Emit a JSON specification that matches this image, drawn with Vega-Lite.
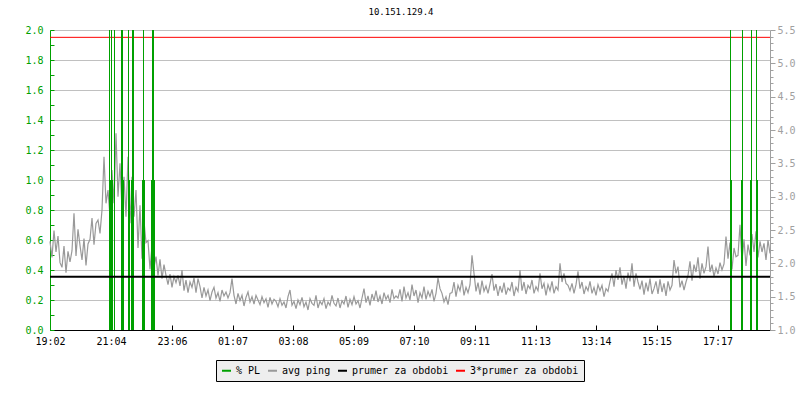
{
  "$schema": "https://vega.github.io/schema/vega-lite/v6.json",
  "width": 720,
  "height": 300,
  "autosize": {"type": "none"},
  "padding": {"left": 50, "top": 30, "right": 30, "bottom": 70},
  "background": "white",
  "title": {"text": "10.151.129.4", "font": "DejaVu Sans Mono", "fontSize": 9, "fontWeight": "normal", "color": "black", "anchor": "middle", "frame": "group", "dx": -9, "offset": 8},
  "config": {"view": {"stroke": null}},
  "datasets": {
    "ping": [
      {"t":0,"v":2.33},{"t":4,"v":2.09},{"t":8,"v":2.49},{"t":12,"v":2.17},{"t":16,"v":2.41},{"t":20,"v":2.01},{"t":24,"v":1.94},{"t":28,"v":2.26},{"t":32,"v":1.86},{"t":36,"v":2.18},{"t":40,"v":2.02},{"t":44,"v":2.19},{"t":48,"v":2.75},{"t":52,"v":2.11},{"t":56,"v":2.51},{"t":60,"v":2.27},{"t":64,"v":2.05},{"t":68,"v":2.37},{"t":72,"v":1.97},{"t":76,"v":2.29},{"t":80,"v":2.36},{"t":84,"v":2.68},{"t":88,"v":2.28},{"t":92,"v":2.6},{"t":96,"v":2.65},{"t":100,"v":2.45},
      {"t":104,"v":2.8},{"t":108,"v":3.6},{"t":112,"v":2.9},{"t":116,"v":3.1},{"t":120,"v":2.7},{"t":124,"v":3.4},{"t":128,"v":2.9},{"t":132,"v":3.95},{"t":136,"v":3.0},{"t":140,"v":3.5},{"t":144,"v":2.8},{"t":148,"v":3.3},{"t":152,"v":2.7},{"t":156,"v":3.6},{"t":160,"v":2.6},{"t":164,"v":3.3},{"t":168,"v":2.7},{"t":172,"v":3.1},{"t":176,"v":2.23},{"t":180,"v":2.87},{"t":184,"v":2.07},{"t":188,"v":2.63},{"t":192,"v":2.31},{"t":196,"v":2.34},{"t":200,"v":1.91},{"t":204,"v":2.26},{"t":208,"v":1.94},{"t":212,"v":2.1},
      {"t":216,"v":1.82},{"t":220,"v":2.06},{"t":224,"v":1.77},{"t":228,"v":1.98},{"t":232,"v":1.82},{"t":236,"v":1.68},{"t":240,"v":1.84},{"t":244,"v":1.64},{"t":248,"v":1.8},{"t":252,"v":1.71},{"t":256,"v":1.82},{"t":260,"v":1.66},{"t":264,"v":1.9},{"t":268,"v":1.59},{"t":272,"v":1.75},{"t":276,"v":1.56},{"t":280,"v":1.72},{"t":284,"v":1.64},{"t":288,"v":1.78},{"t":292,"v":1.56},{"t":296,"v":1.77},{"t":300,"v":1.65},
      {"t":304,"v":1.48},{"t":308,"v":1.64},{"t":312,"v":1.51},{"t":316,"v":1.6},{"t":320,"v":1.44},{"t":324,"v":1.57},{"t":328,"v":1.64},{"t":332,"v":1.48},{"t":336,"v":1.56},{"t":340,"v":1.43},{"t":344,"v":1.6},{"t":348,"v":1.51},{"t":352,"v":1.57},{"t":356,"v":1.48},{"t":360,"v":1.56},{"t":364,"v":1.77},
      {"t":368,"v":1.52},{"t":372,"v":1.39},{"t":376,"v":1.55},{"t":380,"v":1.44},{"t":384,"v":1.52},{"t":388,"v":1.36},{"t":392,"v":1.49},{"t":396,"v":1.57},{"t":400,"v":1.42},{"t":404,"v":1.5},{"t":408,"v":1.39},{"t":412,"v":1.52},{"t":416,"v":1.45},
      {"t":420,"v":1.38},{"t":424,"v":1.5},{"t":428,"v":1.41},{"t":432,"v":1.47},{"t":436,"v":1.34},{"t":440,"v":1.49},{"t":444,"v":1.39},{"t":448,"v":1.46},
      {"t":452,"v":1.43},{"t":456,"v":1.35},{"t":460,"v":1.47},{"t":464,"v":1.37},{"t":468,"v":1.42},{"t":472,"v":1.33},{"t":476,"v":1.5},{"t":480,"v":1.6},{"t":484,"v":1.37},{"t":488,"v":1.43},{"t":492,"v":1.32},{"t":496,"v":1.45},{"t":500,"v":1.38},{"t":504,"v":1.49},{"t":508,"v":1.35},{"t":512,"v":1.42},{"t":516,"v":1.3},{"t":520,"v":1.47},{"t":524,"v":1.4},{"t":528,"v":1.37},{"t":532,"v":1.52},{"t":536,"v":1.33},{"t":540,"v":1.43},{"t":544,"v":1.38},{"t":548,"v":1.47},{"t":552,"v":1.32},{"t":556,"v":1.42},{"t":560,"v":1.37},{"t":564,"v":1.52},{"t":568,"v":1.4},
      {"t":572,"v":1.36},{"t":576,"v":1.48},{"t":580,"v":1.33},{"t":584,"v":1.44},{"t":588,"v":1.39},{"t":592,"v":1.51},{"t":596,"v":1.34},{"t":600,"v":1.46},{"t":604,"v":1.38},{"t":608,"v":1.5},{"t":612,"v":1.39},{"t":616,"v":1.44},{"t":620,"v":1.33},{"t":624,"v":1.48},{"t":628,"v":1.62},
      {"t":632,"v":1.41},{"t":636,"v":1.51},{"t":640,"v":1.37},{"t":644,"v":1.54},{"t":648,"v":1.44},{"t":652,"v":1.59},{"t":656,"v":1.42},{"t":660,"v":1.51},{"t":664,"v":1.39},{"t":668,"v":1.56},{"t":672,"v":1.46},{"t":676,"v":1.52},{"t":680,"v":1.41},{"t":684,"v":1.61},{"t":688,"v":1.47},{"t":692,"v":1.51},
      {"t":696,"v":1.48},{"t":700,"v":1.61},{"t":704,"v":1.43},{"t":708,"v":1.65},{"t":712,"v":1.48},{"t":716,"v":1.56},{"t":720,"v":1.45},{"t":724,"v":1.68},{"t":728,"v":1.51},{"t":732,"v":1.6},{"t":736,"v":1.41},{"t":740,"v":1.56},{"t":744,"v":1.48},{"t":748,"v":1.65},{"t":752,"v":1.46},{"t":756,"v":1.58},{"t":760,"v":1.5},{"t":764,"v":1.61},{"t":768,"v":1.43},{"t":772,"v":1.55},
      {"t":776,"v":1.78},{"t":780,"v":1.62},{"t":784,"v":1.55},{"t":788,"v":1.42},{"t":792,"v":1.5},{"t":796,"v":1.38},{"t":800,"v":1.55},
      {"t":804,"v":1.56},{"t":808,"v":1.72},{"t":812,"v":1.5},{"t":816,"v":1.67},{"t":820,"v":1.59},{"t":824,"v":1.75},{"t":828,"v":1.52},{"t":832,"v":1.64},{"t":836,"v":1.56},{"t":840,"v":1.68},{"t":844,"v":2.12},{"t":848,"v":1.85},
      {"t":852,"v":1.58},{"t":856,"v":1.71},{"t":860,"v":1.53},{"t":864,"v":1.74},{"t":868,"v":1.58},{"t":872,"v":1.66},{"t":876,"v":1.55},{"t":880,"v":1.69},
      {"t":884,"v":1.84},{"t":888,"v":1.59},{"t":892,"v":1.69},{"t":896,"v":1.51},{"t":900,"v":1.66},{"t":904,"v":1.56},{"t":908,"v":1.71},{"t":912,"v":1.53},{"t":916,"v":1.63},{"t":920,"v":1.59},{"t":924,"v":1.72},{"t":928,"v":1.51},{"t":932,"v":1.64},{"t":936,"v":1.58},{"t":940,"v":1.9},
      {"t":944,"v":1.59},{"t":948,"v":1.72},{"t":952,"v":1.54},{"t":956,"v":1.67},{"t":960,"v":1.62},{"t":964,"v":1.75},{"t":968,"v":1.55},{"t":972,"v":1.65},{"t":976,"v":1.59},{"t":980,"v":1.85},{"t":984,"v":1.62},{"t":988,"v":1.7},{"t":992,"v":1.52},{"t":996,"v":1.68},{"t":1000,"v":1.59},{"t":1004,"v":1.73},{"t":1008,"v":1.55},{"t":1012,"v":1.65},{"t":1016,"v":1.6},
      {"t":1020,"v":2.0},{"t":1024,"v":1.72},{"t":1028,"v":1.85},{"t":1032,"v":1.7},
      {"t":1036,"v":1.67},{"t":1040,"v":1.59},{"t":1044,"v":1.7},{"t":1048,"v":1.55},{"t":1052,"v":1.68},{"t":1056,"v":1.88},{"t":1060,"v":1.62},{"t":1064,"v":1.72},{"t":1068,"v":1.54},{"t":1072,"v":1.65},{"t":1076,"v":1.59},{"t":1080,"v":1.73},{"t":1084,"v":1.55},{"t":1088,"v":1.64},{"t":1092,"v":1.52},{"t":1096,"v":1.68},{"t":1100,"v":1.59},{"t":1104,"v":1.67},{"t":1108,"v":1.5},{"t":1112,"v":1.62},{"t":1116,"v":1.58},
      {"t":1120,"v":1.73},{"t":1124,"v":1.85},{"t":1128,"v":1.65},{"t":1132,"v":1.9},{"t":1136,"v":1.75},{"t":1140,"v":1.94},{"t":1144,"v":1.68},{"t":1148,"v":1.81},{"t":1152,"v":1.62},{"t":1156,"v":1.86},{"t":1160,"v":1.73},{"t":1164,"v":2.0},{"t":1168,"v":1.65},{"t":1172,"v":1.85},{"t":1176,"v":1.72},
      {"t":1180,"v":1.61},{"t":1184,"v":1.74},{"t":1188,"v":1.53},{"t":1192,"v":1.71},{"t":1196,"v":1.58},{"t":1200,"v":1.77},{"t":1204,"v":1.54},
      {"t":1208,"v":1.62},{"t":1212,"v":1.73},{"t":1216,"v":1.54},{"t":1220,"v":1.76},{"t":1224,"v":1.57},{"t":1228,"v":1.7},{"t":1232,"v":1.51},{"t":1236,"v":1.73},{"t":1240,"v":1.6},{"t":1244,"v":1.67},
      {"t":1248,"v":2.05},{"t":1252,"v":1.85},{"t":1256,"v":1.95},{"t":1260,"v":1.64},{"t":1264,"v":1.74},{"t":1268,"v":1.6},{"t":1272,"v":1.72},
      {"t":1276,"v":1.82},{"t":1280,"v":2.03},{"t":1284,"v":1.74},{"t":1288,"v":1.98},{"t":1292,"v":1.87},{"t":1296,"v":2.09},{"t":1300,"v":1.77},{"t":1304,"v":2.0},{"t":1308,"v":1.85},{"t":1312,"v":1.95},{"t":1316,"v":2.25},
      {"t":1320,"v":1.87},{"t":1324,"v":1.98},{"t":1328,"v":1.8},{"t":1332,"v":1.93},{"t":1336,"v":1.84},{"t":1340,"v":2.01},{"t":1344,"v":1.9},
      {"t":1348,"v":1.99},{"t":1352,"v":2.4},{"t":1356,"v":2.07},{"t":1360,"v":2.31},{"t":1364,"v":1.91},{"t":1368,"v":2.23},{"t":1372,"v":2.1},
      {"t":1376,"v":2.12},{"t":1380,"v":2.58},{"t":1384,"v":2.04},{"t":1388,"v":2.36},{"t":1392,"v":1.96},{"t":1396,"v":2.28},{"t":1400,"v":2.12},{"t":1404,"v":2.44},
      {"t":1408,"v":2.17},{"t":1412,"v":2.48},{"t":1416,"v":2.09},{"t":1420,"v":2.33},{"t":1424,"v":2.17},{"t":1428,"v":2.3},{"t":1432,"v":2.05},{"t":1436,"v":2.35},{"t":1440,"v":2.15}
    ],
    "pl": [
      {"t":118,"v":2},{"t":120,"v":1},{"t":122,"v":2},{"t":124,"v":1},{"t":128,"v":2},{"t":142,"v":2},{"t":144,"v":2},{"t":146,"v":1},{"t":156,"v":2},{"t":158,"v":1},{"t":162,"v":1},{"t":164,"v":2},{"t":166,"v":2},{"t":184,"v":1},{"t":186,"v":2},{"t":188,"v":1},{"t":202,"v":1},{"t":204,"v":2},{"t":206,"v":2},{"t":208,"v":1},
      {"t":1360,"v":2},{"t":1362,"v":1},{"t":1382,"v":1},{"t":1384,"v":2},{"t":1400,"v":1},{"t":1402,"v":2},{"t":1412,"v":2},{"t":1414,"v":1}
    ]
  },
  "resolve": {"scale": {"y": "independent"}},
  "layer": [
    {
      "data": {"name": "ping"},
      "mark": {"type": "line", "strokeWidth": 1.2, "interpolate": "linear"},
      "encoding": {
        "x": {"field": "t", "type": "quantitative", "scale": {"domain": [0, 1440], "nice": false, "zero": false},
          "axis": {"values": [0,122,244,365,486,607,728,849,971,1092,1213,1335], "labelExpr": "utcFormat(utc(2020,0,1,19,2+datum.value),'%H:%M')", "labelFont": "DejaVu Sans Mono", "labelFontSize": 10, "labelColor": "black", "domainColor": "black", "tickColor": "black", "tickSize": -5, "labelPadding": 11, "grid": false, "title": null, "labelFlush": false, "labelOverlap": false}},
        "y": {"field": "v", "type": "quantitative", "scale": {"domain": [1, 5.5], "nice": false, "zero": false},
          "axis": {"orient": "right", "values": [1.0,1.1,1.2,1.3,1.4,1.5,1.6,1.7,1.8,1.9,2.0,2.1,2.2,2.3,2.4,2.5,2.6,2.7,2.8,2.9,3.0,3.1,3.2,3.3,3.4,3.5,3.6,3.7,3.8,3.9,4.0,4.1,4.2,4.3,4.4,4.5,4.6,4.7,4.8,4.9,5.0,5.1,5.2,5.3,5.4,5.5],
            "labelExpr": "round(datum.value*10)%5===0 ? format(datum.value,'.1f') : ''", "labelFont": "DejaVu Sans Mono", "labelFontSize": 10, "labelColor": "#a0a0a0", "domainColor": "#a0a0a0", "tickColor": "#a0a0a0",
            "tickSize": {"condition": {"test": "round(datum.value*10)%5===0", "value": 5}, "value": 3}, "labelPadding": 2, "grid": false, "title": null, "labelOverlap": false, "labelFlush": false}},
        "color": {"datum": "avg ping", "type": "nominal", "title": null,
          "scale": {"domain": ["% PL", "avg ping", "prumer za obdobi", "3*prumer za obdobi"], "range": ["#00a000", "#999999", "#000000", "#ff0000"]},
          "legend": {"orient": "none", "legendX": 166, "legendY": 330, "direction": "horizontal", "title": null, "symbolType": "stroke", "symbolSize": 81, "symbolStrokeWidth": 2, "labelFont": "DejaVu Sans Mono", "labelFontSize": 10, "labelColor": "black", "fillColor": "#eeeeee", "strokeColor": "#000000", "padding": 5, "columnPadding": 3, "labelOffset": 4}}
      }
    },
    {
      "data": {"values": [{"s": "3*prumer za obdobi", "v": 5.39}]},
      "mark": {"type": "rule", "strokeWidth": 1},
      "encoding": {
        "y": {"field": "v", "type": "quantitative", "scale": {"domain": [1, 5.5], "nice": false, "zero": false}, "axis": null},
        "color": {"field": "s", "type": "nominal", "title": null}
      }
    },
    {
      "data": {"name": "pl"},
      "mark": {"type": "rule", "strokeWidth": 1, "xOffset": 0.5},
      "encoding": {
        "x": {"field": "t", "type": "quantitative", "scale": {"domain": [0, 1440], "nice": false, "zero": false}},
        "y": {"field": "v", "type": "quantitative", "scale": {"domain": [0, 2], "nice": false},
          "axis": {"orient": "left", "values": [0,0.1,0.2,0.3,0.4,0.5,0.6,0.7,0.8,0.9,1.0,1.1,1.2,1.3,1.4,1.5,1.6,1.7,1.8,1.9,2.0],
            "labelExpr": "round(datum.value*10)%2===0 ? format(datum.value,'.1f') : ''", "labelFont": "DejaVu Sans Mono", "labelFontSize": 10, "labelColor": "#00a000", "domainColor": "#00a000", "tickColor": "#00a000", "tickSize": -4, "labelPadding": 11,
            "grid": true, "gridColor": "#c0c0c0", "gridOpacity": {"condition": {"test": "round(datum.value*10)%2===0", "value": 1}, "value": 0}, "title": null, "labelOverlap": false, "labelFlush": false}},
        "y2": {"datum": 0},
        "color": {"datum": "% PL", "type": "nominal", "title": null}
      }
    },
    {
      "data": {"values": [{"s": "prumer za obdobi", "v": 1.797}]},
      "mark": {"type": "rule", "strokeWidth": 2},
      "encoding": {
        "y": {"field": "v", "type": "quantitative", "scale": {"domain": [1, 5.5], "nice": false, "zero": false}, "axis": null},
        "color": {"field": "s", "type": "nominal", "title": null}
      }
    }
  ]
}
